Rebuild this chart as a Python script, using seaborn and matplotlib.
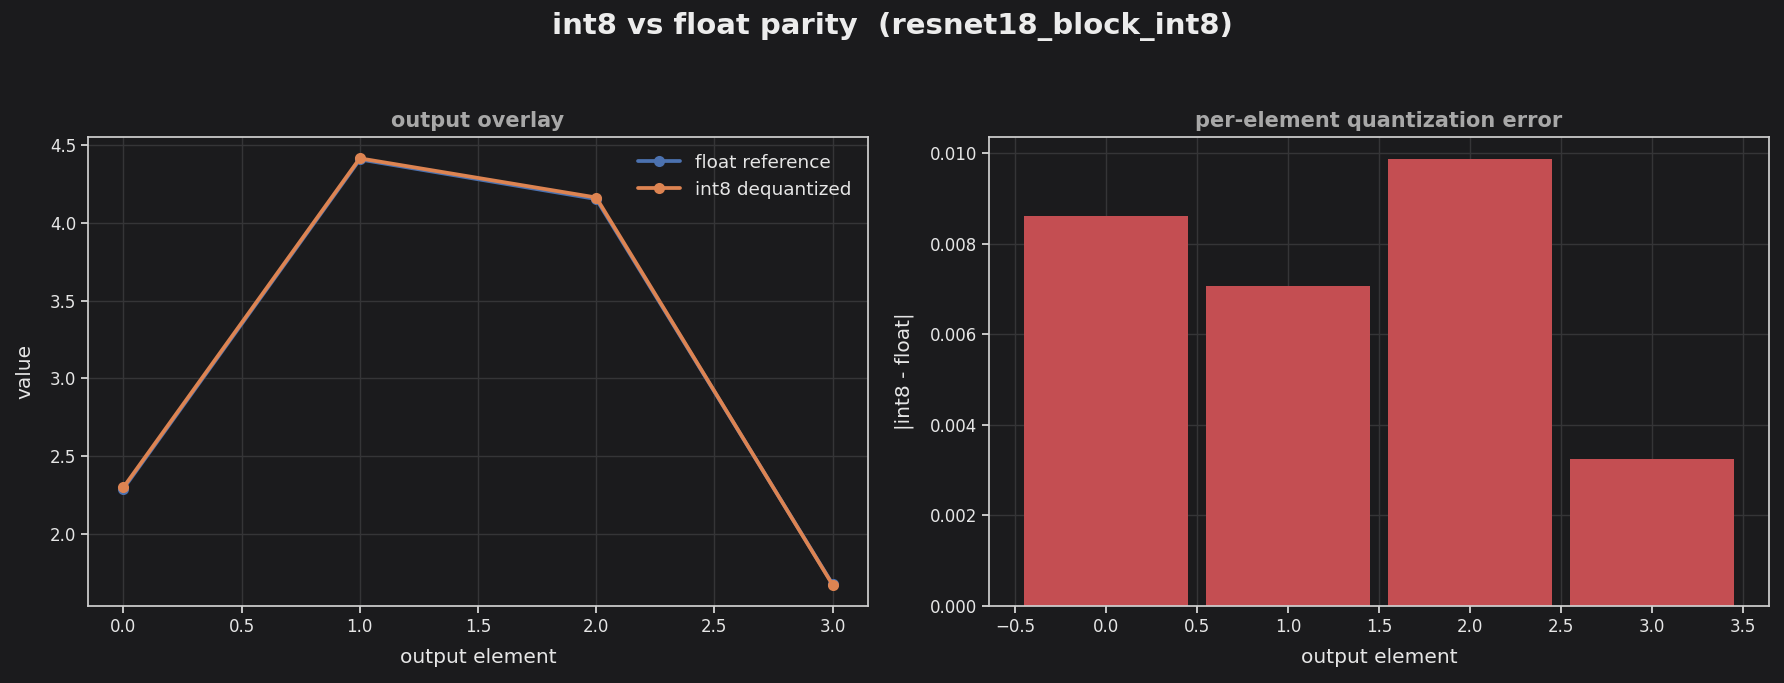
import numpy as np
import pandas as pd
import matplotlib
matplotlib.use("Agg")
import matplotlib.pyplot as plt
import seaborn as sns

# data
elements = [0, 1, 2, 3]
float_ref = [2.2914, 4.4069, 4.1524, 1.6785]
int8_deq = [2.3000, 4.4140, 4.1623, 1.6752]
abs_err = [0.00860, 0.00707, 0.00986, 0.00325]

BG = "#1b1b1d"
sns.set_theme(style="darkgrid", rc={
    "figure.facecolor": BG,
    "axes.facecolor": BG,
    "axes.edgecolor": "#d0d0d0",
    "axes.linewidth": 1.25,
    "grid.color": "#353537",
    "grid.linewidth": 1.0,
    "text.color": "#e6e6e6",
    "axes.labelcolor": "#e6e6e6",
    "xtick.color": "#e6e6e6",
    "ytick.color": "#e6e6e6",
    "xtick.bottom": True,
    "ytick.left": True,
    "xtick.major.size": 5,
    "ytick.major.size": 5,
    "xtick.major.width": 1.2,
    "ytick.major.width": 1.2,
})
plt.rcParams["font.family"] = ["DejaVu Sans"]

fig, (ax1, ax2) = plt.subplots(1, 2, figsize=(17.84, 6.83), dpi=100)
fig.subplots_adjust(left=0.0493, right=0.9916, bottom=0.1127, top=0.7994, wspace=0.155)

sns.lineplot(x=elements, y=float_ref, ax=ax1, color="#4c72b0", lw=2.7,
             marker="o", markersize=8, markeredgewidth=0, label="float reference")
sns.lineplot(x=elements, y=int8_deq, ax=ax1, color="#dd8452", lw=2.7,
             marker="o", markersize=8, markeredgewidth=0, label="int8 dequantized")
ax1.set_title("output overlay", fontsize=15, fontweight="bold", color="#a8a8a8", pad=7)
ax1.set_xlabel("output element", fontsize=14.5, labelpad=9)
ax1.set_ylabel("value", fontsize=14.5, labelpad=11)
ax1.tick_params(labelsize=12)
leg = ax1.legend(frameon=False, fontsize=13.3, loc="upper right", handlelength=2.3)
for t in leg.get_texts():
    t.set_color("#e6e6e6")

sns.barplot(x=elements, y=abs_err, ax=ax2, native_scale=True, width=0.9,
            color="#c44e52", saturation=1, edgecolor="none")
ax2.set_title("per-element quantization error", fontsize=15, fontweight="bold", color="#a8a8a8", pad=7)
ax2.set_xlabel("output element", fontsize=14.5, labelpad=9)
ax2.set_ylabel("|int8 - float|", fontsize=14.5, labelpad=11)
ax2.tick_params(labelsize=12)
ax2.set_xticks(np.arange(-0.5, 4.0, 0.5))
ax2.set_xlim(-0.645, 3.645)

fig.suptitle("int8 vs float parity  (resnet18_block_int8)", fontsize=21,
             fontweight="bold", color="#ececec", y=0.982)

fig.savefig("out.png", dpi=100, facecolor=BG)
